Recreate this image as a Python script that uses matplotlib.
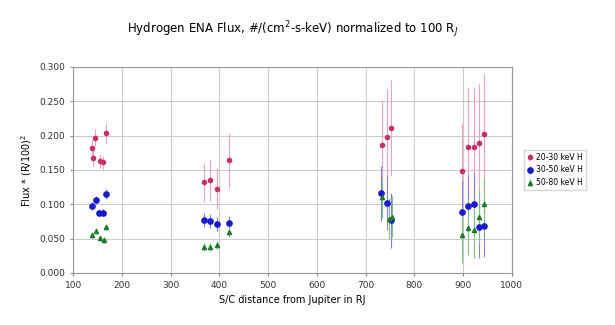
import matplotlib.pyplot as plt
from matplotlib.ticker import FormatStrFormatter

# distance from Jupiter (RJ)
dist = [139, 145, 141, 155, 162, 167,
        369, 381, 396, 420,
        733, 745, 753,
        898, 911, 922, 933, 943]

# 20-30 keV H
flux_lo = [0.182, 0.197, 0.168, 0.163, 0.161, 0.204,
           0.132, 0.135, 0.123, 0.164,
           0.187, 0.198, 0.211,
           0.149, 0.183, 0.184, 0.190, 0.202]
err_lo = [0.012, 0.012, 0.012, 0.010, 0.010, 0.015,
          0.028, 0.030, 0.030, 0.040,
          0.065, 0.070, 0.070,
          0.070, 0.087, 0.085, 0.085, 0.088]

# 30-50 keV H
dist_mid = [139, 146, 154, 162, 167,
            369, 381, 396, 420,
            731, 745, 753,
            898, 911, 922, 933, 943]
flux_mid = [0.098, 0.106, 0.088, 0.088, 0.115,
            0.077, 0.076, 0.071, 0.073,
            0.116, 0.102, 0.077,
            0.089, 0.098, 0.100, 0.067, 0.069]
err_mid = [0.006, 0.006, 0.005, 0.005, 0.007,
           0.010, 0.010, 0.010, 0.010,
           0.040, 0.040, 0.040,
           0.045, 0.045, 0.045, 0.045, 0.045]

# 50-80 keV H
dist_hi = [139, 146, 155, 163, 167,
           369, 381, 396, 420,
           733, 748, 754,
           898, 911, 922, 933, 943]
flux_hi = [0.055, 0.061, 0.051, 0.048, 0.067,
           0.038, 0.038, 0.041, 0.059,
           0.110, 0.079, 0.082,
           0.055, 0.066, 0.062, 0.082, 0.100]
err_hi = [0.004, 0.004, 0.004, 0.004, 0.005,
          0.006, 0.006, 0.006, 0.007,
          0.030, 0.030, 0.030,
          0.040, 0.040, 0.040, 0.040, 0.040]

fig = plt.figure(figsize=(6.15, 3.25), dpi=100)
ax = fig.add_axes([0.119, 0.16, 0.713, 0.634])

ax.errorbar(dist, flux_lo, yerr=err_lo, fmt='o', ms=3, color='#c8306a',
            ecolor='#f0a0c0', elinewidth=0.8, label='20-30 keV H')
ax.errorbar(dist_mid, flux_mid, yerr=err_mid, fmt='o', ms=3.8, color='#1a1acc',
            ecolor='#8080e8', elinewidth=0.8, label='30-50 keV H')
ax.errorbar(dist_hi, flux_hi, yerr=err_hi, fmt='^', ms=3, color='#1e7a2a',
            ecolor='#80c080', elinewidth=0.8, label='50-80 keV H')

ax.set_xlim(100, 1000)
ax.set_ylim(0, 0.3)
ax.set_xticks(range(100, 1001, 100))
ax.set_yticks([0, 0.05, 0.1, 0.15, 0.2, 0.25, 0.3])
ax.yaxis.set_major_formatter(FormatStrFormatter('%.3f'))
ax.tick_params(labelsize=6.5, length=2, color='#888888', labelcolor='#333333')
ax.grid(True, color='#cccccc', linewidth=0.8)
for s in ax.spines.values():
    s.set_color('#999999')

ax.set_title('Hydrogen ENA Flux, #/(cm$^2$-s-keV) normalized to 100 R$_J$',
             fontsize=8.5, pad=24)
ax.set_xlabel('S/C distance from Jupiter in RJ', fontsize=7)
ax.set_ylabel('Flux * (R/100)$^2$', fontsize=7)

ax.legend(loc='center left', bbox_to_anchor=(1.02, 0.5), fontsize=5.5,
          frameon=True, fancybox=False, edgecolor='#cccccc', handlelength=0.8,
          handletextpad=0.3, borderpad=0.4, labelspacing=0.5)

fig.savefig('out.png', dpi=100)
